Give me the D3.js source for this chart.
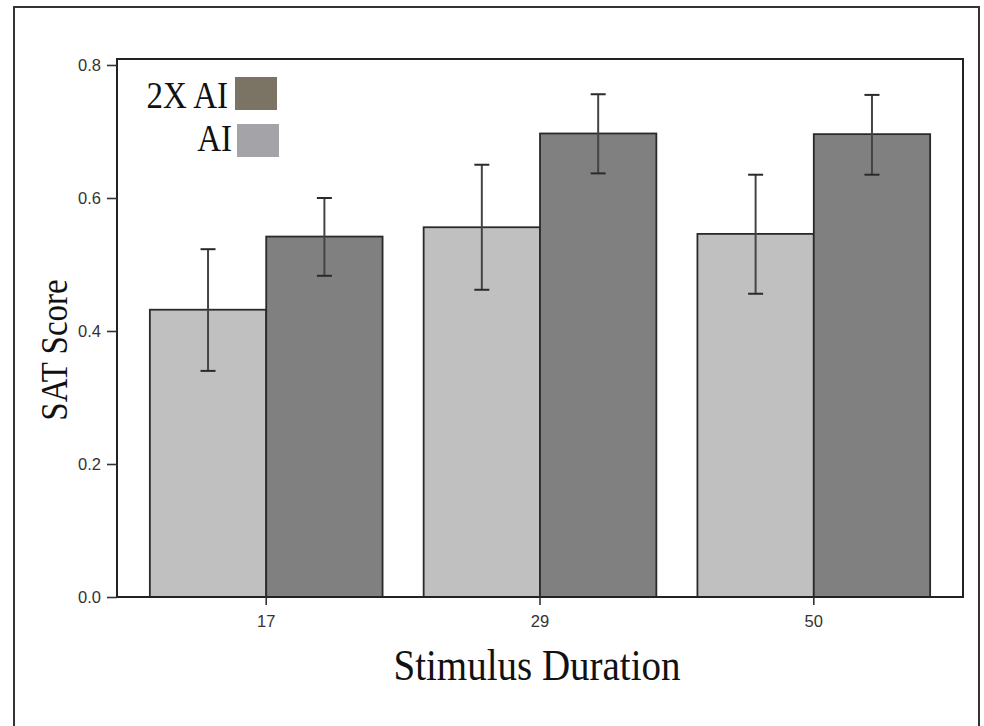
<!DOCTYPE html>
<html>
<head>
<meta charset="utf-8">
<script src="https://cdn.jsdelivr.net/npm/d3@7"></script>
<style>
  html, body { margin: 0; padding: 0; background: #fff; }
  svg { display: block; }
</style>
</head>
<body>
<svg id="chart" width="984" height="726"></svg>
<script>
// ---- data ----
const categories = ["17", "29", "50"];
const seriesNames = ["AI", "2X AI"];
const aiValues   = [0.432, 0.556, 0.546];
const aiLow      = [0.340, 0.462, 0.456];
const aiHigh     = [0.523, 0.650, 0.635];
const ai2xValues = [0.542, 0.697, 0.696];
const ai2xLow    = [0.483, 0.637, 0.635];
const ai2xHigh   = [0.600, 0.756, 0.755];
const yTicks     = [0.0, 0.2, 0.4, 0.6, 0.8];
const yMax       = 0.809;
const xTitle = "Stimulus Duration";
const yTitle = "SAT Score";
const legendLabels = ["2X AI", "AI"];

(function () {
// ---- layout ----
const svg = d3.select("#chart");
const pLeft = 117, pRight = 963, pTop = 59, pBottom = 597;
const barColors = { "AI": "#c0c0c0", "2X AI": "#808080" };
const legendColors = { "2X AI": "#7b7364", "AI": "#a4a4a8" };

const rows = categories.map((c, i) => ({
  cat: c,
  bars: [
    { s: "AI", v: aiValues[i], lo: aiLow[i], hi: aiHigh[i] },
    { s: "2X AI", v: ai2xValues[i], lo: ai2xLow[i], hi: ai2xHigh[i] }
  ]
}));

const x = d3.scaleBand().domain(categories).range([pLeft, pRight])
  .paddingInner(0.15).paddingOuter(0.12);
const xs = d3.scaleBand().domain(seriesNames).range([0, x.bandwidth()]).padding(0);
const y = d3.scaleLinear().domain([0, yMax]).range([pBottom, pTop]);

// outer frame
svg.append("rect")
  .attr("x", 14).attr("y", 7).attr("width", 965).attr("height", 730)
  .attr("fill", "none").attr("stroke", "#333").attr("stroke-width", 2);

// bars
const g = svg.append("g");
const groups = g.selectAll("g.grp").data(rows).join("g")
  .attr("class", "grp")
  .attr("transform", d => `translate(${x(d.cat)},0)`);

groups.selectAll("rect").data(d => d.bars).join("rect")
  .attr("x", d => xs(d.s))
  .attr("y", d => y(d.v))
  .attr("width", xs.bandwidth())
  .attr("height", d => y(0) - y(d.v))
  .attr("fill", d => barColors[d.s])
  .attr("stroke", "#2a2a2a").attr("stroke-width", 1.8);

// error bars
const capW = 15;
const eb = groups.selectAll("g.eb").data(d => d.bars).join("g").attr("class", "eb");
eb.append("line")
  .attr("x1", d => xs(d.s) + xs.bandwidth() / 2)
  .attr("x2", d => xs(d.s) + xs.bandwidth() / 2)
  .attr("y1", d => y(d.lo)).attr("y2", d => y(d.hi))
  .attr("stroke", "#444").attr("stroke-width", 2);
["lo", "hi"].forEach(k => {
  eb.append("line")
    .attr("x1", d => xs(d.s) + xs.bandwidth() / 2 - capW / 2)
    .attr("x2", d => xs(d.s) + xs.bandwidth() / 2 + capW / 2)
    .attr("y1", d => y(d[k])).attr("y2", d => y(d[k]))
    .attr("stroke", "#2a2a2a").attr("stroke-width", 2);
});

// plot frame
svg.append("rect")
  .attr("x", pLeft).attr("y", pTop).attr("width", pRight - pLeft).attr("height", pBottom - pTop)
  .attr("fill", "none").attr("stroke", "#222").attr("stroke-width", 2);

// axes
const yAxis = d3.axisLeft(y).tickValues(yTicks).tickFormat(d3.format(".1f"))
  .tickSize(10).tickPadding(6);
const ya = svg.append("g").attr("transform", `translate(${pLeft},0)`).call(yAxis);
const xAxis = d3.axisBottom(x).tickSize(8).tickPadding(10);
const xa = svg.append("g").attr("transform", `translate(0,${pBottom})`).call(xAxis);
[ya, xa].forEach(a => {
  a.attr("font-size", null).attr("font-family", null);
  a.select(".domain").remove();
  a.selectAll(".tick line").attr("stroke", "#333").attr("stroke-width", 1.6);
  a.selectAll(".tick text").attr("fill", "#333")
    .attr("font-family", "'Liberation Sans', Arial, sans-serif").attr("font-size", 16.5);
});

// titles (serif)
const serif = "'Liberation Serif', 'Times New Roman', serif";
svg.append("text")
  .attr("transform", `translate(537,680) scale(1,1.13)`)
  .attr("text-anchor", "middle")
  .style("font-family", serif).style("font-size", "39px").attr("fill", "#111")
  .text(xTitle);
svg.append("text")
  .attr("transform", `translate(67,350) rotate(-90) scale(1,1.13)`)
  .attr("text-anchor", "middle")
  .style("font-family", serif).style("font-size", "33px").attr("fill", "#111")
  .text(yTitle);

// legend
const legend = [
  { label: legendLabels[0], textX: 228, baseY: 108, boxX: 235, boxY: 77 },
  { label: legendLabels[1], textX: 232, baseY: 151, boxX: 237, boxY: 124 }
];
const lg = svg.append("g");
legend.forEach(l => {
  lg.append("text")
    .attr("transform", `translate(${l.textX},${l.baseY}) scale(1,1.13)`)
    .attr("text-anchor", "end")
    .style("font-family", serif).style("font-size", "33px").attr("fill", "#111")
    .text(l.label);
  lg.append("rect")
    .attr("x", l.boxX).attr("y", l.boxY).attr("width", 42).attr("height", 33)
    .attr("fill", legendColors[l.label]);
});
})();
</script>
</body>
</html>
